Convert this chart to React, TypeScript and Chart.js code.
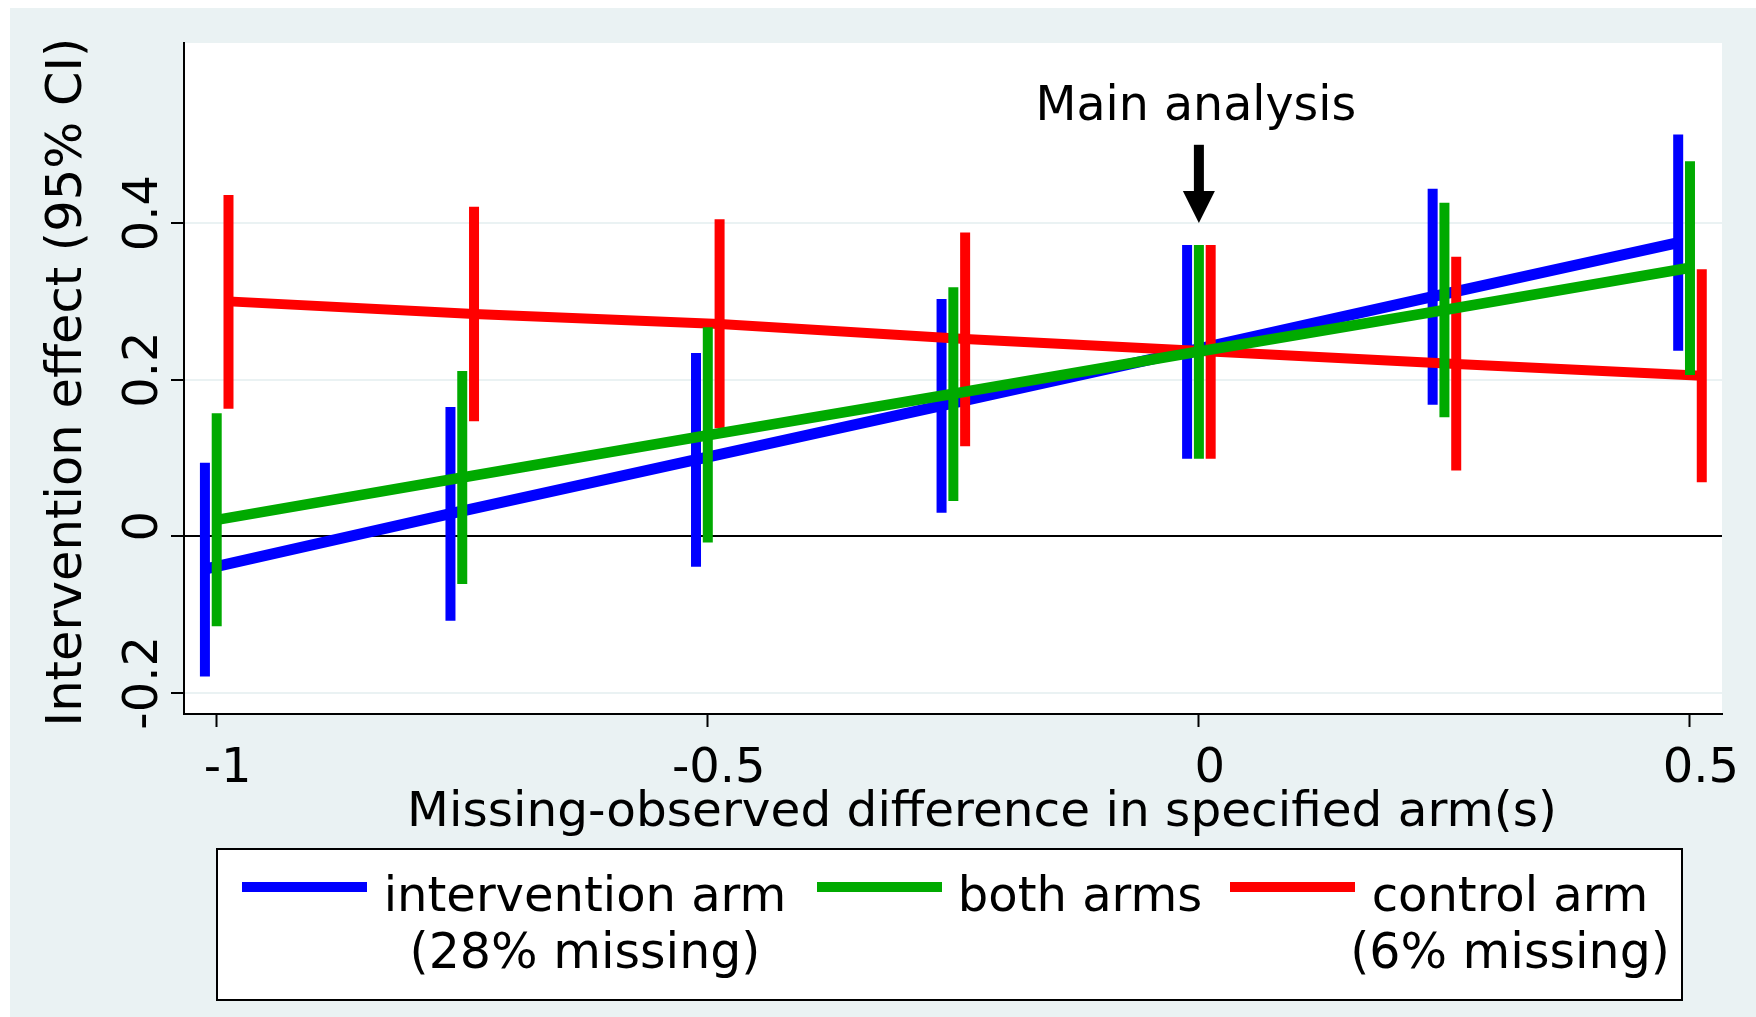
import React, { useEffect, useRef } from 'react';
import { Chart, registerables } from 'chart.js';

Chart.register(...registerables);

// ---------------- data ----------------
const xValues = [-1, -0.75, -0.5, -0.25, 0, 0.25, 0.5];

const interventionEst = [-0.042, 0.029, 0.098, 0.167, 0.236, 0.306, 0.375];
const interventionLo = [-0.179, -0.108, -0.039, 0.03, 0.099, 0.168, 0.237];
const interventionHi = [0.094, 0.165, 0.234, 0.303, 0.372, 0.444, 0.513];

const bothEst = [0.021, 0.075, 0.129, 0.182, 0.236, 0.289, 0.343];
const bothLo = [-0.115, -0.061, -0.008, 0.045, 0.099, 0.152, 0.206];
const bothHi = [0.157, 0.211, 0.267, 0.318, 0.372, 0.426, 0.479];

const controlEst = [0.3, 0.284, 0.271, 0.252, 0.236, 0.22, 0.205];
const controlLo = [0.163, 0.147, 0.138, 0.115, 0.099, 0.084, 0.069];
const controlHi = [0.436, 0.421, 0.405, 0.388, 0.372, 0.357, 0.341];

const xTicks = [-1, -0.5, 0, 0.5];
const xTickLabels = ['-1', '-0.5', '0', '0.5'];
const yTicks = [-0.2, 0, 0.2, 0.4];
const yTickLabels = ['-0.2', '0', '0.2', '0.4'];

const xTitle = 'Missing-observed difference in specified arm(s)';
const yTitle = 'Intervention effect (95% CI)';

const legendLine1 = ['intervention arm', 'both arms', 'control arm'];
const legendLine2 = ['(28% missing)', '', '(6% missing)'];

const annotationText = 'Main analysis';
const annotationX = 0;
const annotationY = 0.532;
const arrowFromY = 0.5;
const arrowToY = 0.4;

// ---------------- styles ----------------
const W = 1756;
const H = 1017;
const FONT = '"DejaVu Sans", Verdana, sans-serif';
const BLUE = '#0000FF';
const GREEN = '#00AA00';
const RED = '#FF0000';
const BG = '#EAF2F3';
const OFFSET = 0.012;

const rangeData = (lo: number[], hi: number[], off: number) =>
  xValues.flatMap((x, i) => [
    { x: x + off, y: lo[i] },
    { x: x + off, y: hi[i] },
    { x: x + off, y: null as any },
  ]);

const lineData = (est: number[], off: number) => xValues.map((x, i) => ({ x: x + off, y: est[i] }));

const bgPlugin = {
  id: 'bgPlugin',
  beforeDraw(chart: any) {
    const { ctx, chartArea } = chart;
    ctx.save();
    ctx.fillStyle = '#ffffff';
    ctx.fillRect(0, 0, W, H);
    ctx.fillStyle = BG;
    ctx.fillRect(10, 8, W - 10, H - 8);
    ctx.fillStyle = '#ffffff';
    ctx.fillRect(chartArea.left, chartArea.top, chartArea.right - chartArea.left, chartArea.bottom - chartArea.top);
    ctx.restore();
  },
};

const overlayPlugin = {
  id: 'overlayPlugin',
  afterDraw(chart: any) {
    const { ctx } = chart;
    const xs = chart.scales.x;
    const ys = chart.scales.y;
    ctx.save();
    ctx.fillStyle = '#000';
    ctx.font = `48px ${FONT}`;

    // y tick labels (rotated)
    yTicks.forEach((v, i) => {
      const py = ys.getPixelForValue(v);
      ctx.save();
      ctx.translate(157, py - 10);
      ctx.rotate(-Math.PI / 2);
      ctx.textAlign = 'center';
      ctx.textBaseline = 'alphabetic';
      ctx.fillText(yTickLabels[i], 0, 0);
      ctx.restore();
    });

    // x tick labels
    ctx.textAlign = 'center';
    ctx.textBaseline = 'alphabetic';
    xTicks.forEach((v, i) => {
      const px = xs.getPixelForValue(v);
      ctx.fillText(xTickLabels[i], px + 11, 782);
    });

    // axis titles
    ctx.font = `48.5px ${FONT}`;
    ctx.fillText(xTitle, 982, 826);
    ctx.font = `49.5px ${FONT}`;
    ctx.save();
    ctx.translate(81, 382);
    ctx.rotate(-Math.PI / 2);
    ctx.fillText(yTitle, 0, 0);
    ctx.restore();

    // annotation
    const ax = xs.getPixelForValue(annotationX);
    ctx.font = `47.5px ${FONT}`;
    ctx.fillText(annotationText, ax - 3, ys.getPixelForValue(annotationY));
    const top = ys.getPixelForValue(arrowFromY);
    const tip = ys.getPixelForValue(arrowToY);
    const headH = 32;
    const headW = 16;
    ctx.fillRect(ax - 5, top, 10, tip - headH - top + 1);
    ctx.beginPath();
    ctx.moveTo(ax - headW, tip - headH);
    ctx.lineTo(ax + headW, tip - headH);
    ctx.lineTo(ax, tip);
    ctx.closePath();
    ctx.fill();

    // legend
    ctx.fillStyle = '#ffffff';
    ctx.fillRect(217, 849, 1465, 151);
    ctx.strokeStyle = '#000';
    ctx.lineWidth = 2;
    ctx.strokeRect(217, 849, 1465, 151);
    const swatchX = [242, 817, 1230];
    const textCx = [585, 1080, 1510];
    const colors = [BLUE, GREEN, RED];
    ctx.font = `48px ${FONT}`;
    for (let i = 0; i < 3; i++) {
      ctx.fillStyle = colors[i];
      ctx.fillRect(swatchX[i], 882, 125, 10);
      ctx.fillStyle = '#000';
      ctx.textAlign = 'center';
      ctx.font = `48px ${FONT}`;
      ctx.fillText(legendLine1[i], textCx[i], 911);
      ctx.font = `49px ${FONT}`;
      if (legendLine2[i]) ctx.fillText(legendLine2[i], textCx[i], 968);
    }
    ctx.restore();
  },
};

export default function App() {
  const canvasRef = useRef<HTMLCanvasElement | null>(null);

  useEffect(() => {
    const canvas = canvasRef.current;
    if (!canvas) return;
    const common = { pointRadius: 0, pointHoverRadius: 0, tension: 0, fill: false, borderWidth: 10, borderCapStyle: 'butt' as const, spanGaps: false };
    const chart = new Chart(canvas, {
      type: 'line',
      data: {
        datasets: [
          { label: 'both line', data: lineData(bothEst, 0), borderColor: GREEN, order: 0, ...common, borderWidth: 10.5 },
          { label: 'both CI', data: rangeData(bothLo, bothHi, 0), borderColor: GREEN, order: 1, ...common },
          { label: 'control CI', data: rangeData(controlLo, controlHi, OFFSET), borderColor: RED, order: 2, ...common },
          { label: 'control line', data: lineData(controlEst, OFFSET), borderColor: RED, order: 3, ...common },
          { label: 'intervention line', data: lineData(interventionEst, -OFFSET), borderColor: BLUE, order: 4, ...common, borderWidth: 11 },
          { label: 'intervention CI', data: rangeData(interventionLo, interventionHi, -OFFSET), borderColor: BLUE, order: 5, ...common },
        ] as any,
      },
      options: {
        animation: false,
        responsive: false,
        devicePixelRatio: 1,
        events: [],
        layout: { padding: { left: 0, top: 43, right: 34, bottom: 0 } },
        plugins: { legend: { display: false }, tooltip: { enabled: false }, title: { display: false } },
        scales: {
          x: {
            type: 'linear',
            min: -1.0333,
            max: 0.5326,
            afterBuildTicks: (scale: any) => {
              scale.ticks = xTicks.map((v) => ({ value: v }));
            },
            afterFit: (scale: any) => {
              scale.height = H - 714;
            },
            ticks: { display: false },
            grid: { drawOnChartArea: false, drawTicks: true, tickLength: 13, tickColor: '#000', tickWidth: 2 },
            border: { display: true, color: '#000', width: 2 },
          },
          y: {
            type: 'linear',
            min: -0.227,
            max: 0.63,
            afterBuildTicks: (scale: any) => {
              scale.ticks = yTicks.map((v) => ({ value: v }));
            },
            afterFit: (scale: any) => {
              scale.width = 184;
            },
            ticks: { display: false },
            grid: {
              drawOnChartArea: true,
              drawTicks: true,
              tickLength: 13,
              tickColor: '#000',
              tickWidth: 2,
              lineWidth: 2,
              color: (c: any) => (c.tick && c.tick.value === 0 ? '#000' : BG),
            },
            border: { display: true, color: '#000', width: 2 },
          },
        },
      } as any,
      plugins: [bgPlugin, overlayPlugin],
    });
    return () => chart.destroy();
  }, []);

  return (
    <div style={{ position: 'fixed', left: 0, top: 0, width: W, height: H, background: '#fff' }}>
      <canvas ref={canvasRef} width={W} height={H} style={{ width: W, height: H, display: 'block' }} />
    </div>
  );
}
